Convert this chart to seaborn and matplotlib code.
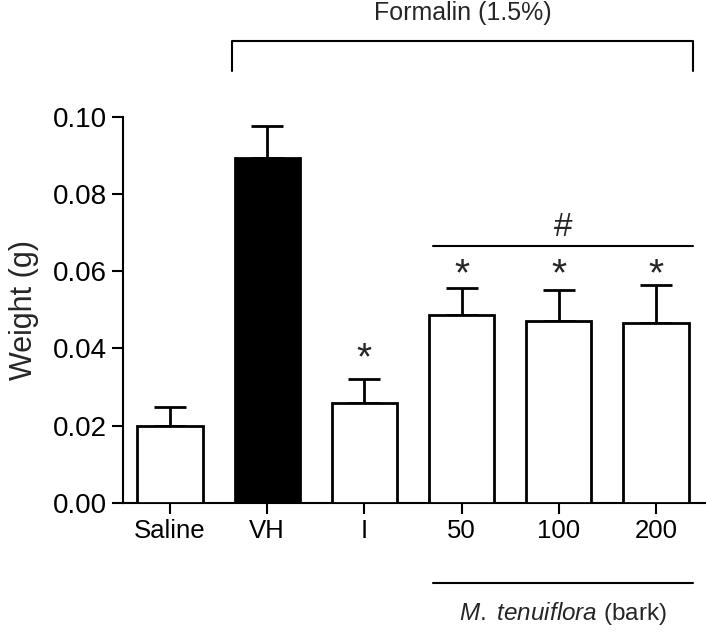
import numpy as np
import matplotlib
matplotlib.use('Agg')
import matplotlib.pyplot as plt
import seaborn as sns

# Данные
groups = ['Saline', 'VH', 'I', '50', '100', '200']
means = [0.0199, 0.0893, 0.0258, 0.0486, 0.0470, 0.0467]
sems = [0.0050, 0.0082, 0.0064, 0.0071, 0.0082, 0.0097]
colors = ['white', 'black', 'white', 'white', 'white', 'white']
star_groups = ['I', '50', '100', '200']
star_y = [0.0372, 0.0590, 0.0590, 0.0590]

sns.set_style('ticks')
plt.rcParams['font.family'] = ['Liberation Sans', 'DejaVu Sans']
plt.rcParams['mathtext.fontset'] = 'custom'
plt.rcParams['mathtext.it'] = 'Liberation Sans:italic'
plt.rcParams['mathtext.rm'] = 'Liberation Sans'

fig = plt.figure(figsize=(7.06, 6.33), dpi=100)
ax = fig.add_axes([0.1738, 0.2054, 0.8262, 0.6103])

sns.barplot(x=groups, y=means, hue=groups, palette=colors, saturation=1,
            edgecolor='black', linewidth=2, width=0.67, legend=False,
            errorbar=None, ax=ax, zorder=3)

# Планки погрешностей (только вверх)
ax.errorbar(np.arange(len(groups)), means, yerr=[np.zeros(len(sems)), sems],
            fmt='none', ecolor='black', elinewidth=2, capsize=11.5,
            capthick=2, zorder=2)

ax.set_xlim(-0.487, 5.514)
ax.set_ylim(0, 0.10)
ax.set_yticks([0, 0.02, 0.04, 0.06, 0.08, 0.10])
ax.set_yticklabels(['0.00', '0.02', '0.04', '0.06', '0.08', '0.10'])
ax.set_ylabel('Weight (g)', fontsize=22, labelpad=10)
ax.tick_params(axis='y', labelsize=20, width=1.5, length=8, colors='black')
ax.tick_params(axis='x', labelsize=18.5, width=1.5, length=8, colors='black')
for s in ['left', 'bottom']:
    ax.spines[s].set_linewidth(1.5)
    ax.spines[s].set_color('black')
sns.despine(ax=ax)

# Звёздочки
for g, y in zip(star_groups, star_y):
    ax.text(groups.index(g), y, '*', ha='center', va='center', fontsize=28)

# Линия "#"
ax.plot([2.706, 5.38], [0.0666, 0.0666], color='black', lw=1.5, clip_on=False)
ax.text(4.04, 0.0674, '#', ha='center', va='bottom', fontsize=24)

# Скобка Formalin
ax.plot([0.64, 0.64, 5.38, 5.38], [0.1119, 0.1197, 0.1197, 0.1119],
        color='black', lw=1.5, clip_on=False)
ax.text(3.01, 0.1236, 'Formalin (1.5%)', ha='center', va='bottom', fontsize=18)

# Линия M. tenuiflora
ax.plot([2.706, 5.38], [-0.0207, -0.0207], color='black', lw=1.5, clip_on=False)
ax.text(4.04, -0.0285, r'$\it{M.\ tenuiflora}$ (bark)', ha='center', va='center',
        fontsize=17.5)

fig.savefig('out.png', dpi=100)
